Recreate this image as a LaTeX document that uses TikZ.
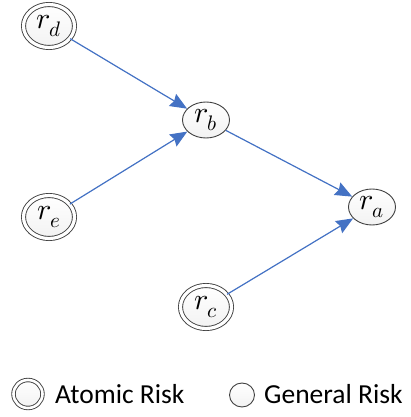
\documentclass[tikz,border=0pt]{standalone}
\usepackage{unicode-math}
\newfontfamily\legendfont{Carlito}
\usetikzlibrary{positioning, arrows.meta, shapes.geometric}

\definecolor{edgeblue}{RGB}{68,114,196}

\begin{document}
\begin{tikzpicture}[
    x=1pt, y=-1pt,
    risk/.style={ellipse, draw=black!75, line width=0.9pt, inner sep=0pt,
        minimum width=47pt, minimum height=36pt, top color=white, bottom color=gray!10,
        font=\fontsize{30}{34}\selectfont},
    atomic/.style={risk, double=white, double distance=3.2pt,
        minimum width=51pt, minimum height=43pt},
    arrow/.style={-{Stealth[length=17pt, width=14pt, inset=2pt]}, line width=1.2pt, draw=edgeblue, fill=edgeblue},
    legtext/.style={font=\legendfont\fontsize{27.5}{32}\selectfont, anchor=base west, inner sep=0pt}
]
\useasboundingbox (0,0) rectangle (411,417);

% Risk nodes
\node[atomic] (rd) at (49,26) {$r_d$};
\node[risk] (rb) at (206,120) {$r_b$};
\node[atomic] (re) at (49,217) {$r_e$};
\node[risk] (ra) at (372,207) {$r_a$};
\node[atomic] (rc) at (206,307) {$r_c$};

% Dependencies
\draw[arrow] (rd) -- (rb);
\draw[arrow] (re) -- (rb);
\draw[arrow] (rb) -- (ra);
\draw[arrow] (rc) -- (ra);

% Legend
\node[risk, double=white, double distance=2.6pt, minimum width=29pt, minimum height=28pt, font=\normalsize] (legatomic) at (28,394) {};
\node[legtext] (legatomictext) at (55,403) {Atomic Risk};
\node[risk, minimum width=25pt, minimum height=24pt, font=\normalsize] (leggeneral) at (242,395) {};
\node[legtext] (leggeneraltext) at (264,403) {General Risk};

\end{tikzpicture}
\end{document}
